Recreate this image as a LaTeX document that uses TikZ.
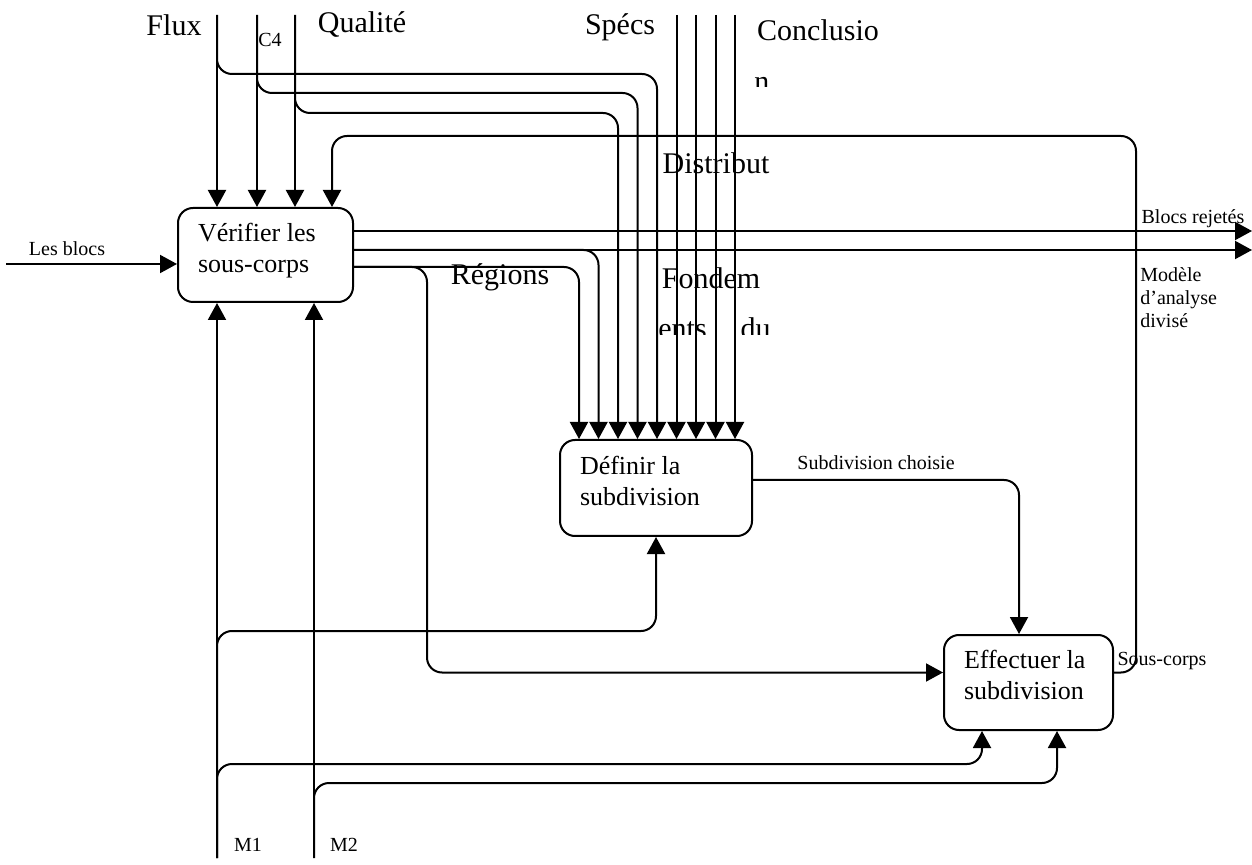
\documentclass[tikz,border=0pt]{standalone}
\usepackage{fontspec}
\setmainfont{Liberation Serif}
\usetikzlibrary{arrows.meta,positioning,calc}

\begin{document}
\begin{tikzpicture}[
    x=0.5pt, y=-0.5pt,
    every node/.style={inner sep=0pt},
    box/.style={draw, line width=1pt, rounded corners=7.5pt, align=flush left, inner xsep=10pt,
        text depth=23pt, font=\fontsize{13}{15.5}\selectfont},
    arr/.style={draw, line width=1pt, rounded corners=7.5pt, -{Triangle[length=8.5pt,width=9pt]}},
    big/.style={font=\fontsize{15}{18}\selectfont},
    small/.style={font=\fontsize{10}{11.5}\selectfont, align=left}
]
\useasboundingbox (0,0) rectangle (1252,865);

% activities
\node[box, minimum width=87.5pt, minimum height=47pt, text width=67.5pt] (verif) at (265.5,255) {Vérifier les\\sous-corps};
\node[box, minimum width=96pt, minimum height=48pt, text width=76pt] (defin) at (656,488) {Définir la\\subdivision};
\node[box, minimum width=84.5pt, minimum height=47.5pt, text width=64.5pt] (effect) at (1028.5,682.5) {Effectuer la\\subdivision};

% free ends
\coordinate (fluxin) at (217,15);
\coordinate (c4in) at (257,15);
\coordinate (qualin) at (295,15);
\coordinate (blocsin) at (6,264);
\coordinate (m1in) at (217,858);
\coordinate (m2in) at (314,858);
\coordinate (rejout) at (1252,231);
\coordinate (modout) at (1252,250);

% entry points
\foreach \i in {1,...,9}
    \coordinate (d\i) at ($(defin.north west)+({0.5+19.5*\i},0)$);
\coordinate (v4) at ($(verif.north west)+(155,0)$);
\coordinate (e1) at ($(effect.south west)+(39,0)$);
\coordinate (e2) at ($(effect.south west)+(114,0)$);
\coordinate (e3) at ($(effect.north west)+(76,0)$);
\coordinate (ein) at ($(effect.west)+(0,-10)$);

% controls
\draw[arr] (fluxin) -- (fluxin |- verif.north);
\draw[arr] (c4in) -- (c4in |- verif.north);
\draw[arr] (qualin) -- (qualin |- verif.north);
\draw[arr] (fluxin) |- (d5 |- 0,74) -- (d5);
\draw[arr] (c4in) |- (d4 |- 0,93) -- (d4);
\draw[arr] (qualin) |- (d3 |- 0,113) -- (d3);
\foreach \i in {6,...,9}
    \draw[arr] (d\i |- fluxin) -- (d\i);

% outputs of verif
\draw[arr] (verif.east |- rejout) -- (rejout);
\draw[arr] (verif.east |- modout) -- (modout);
\draw[arr] (verif.east |- modout) -| (d2);
\draw[arr] (verif.east |- 0,267) -| (d1);
\draw[arr] (verif.east |- 0,267) -| (427,0 |- ein) -- (ein);

% input
\draw[arr] (blocsin) -- (blocsin -| verif.west);

% feedback
\draw[arr] ($(effect.east)+(0,-10)$) -| (1136,136) -| (v4);

% defin to effect
\draw[arr] ($(defin.east)+(0,-8)$) -| (e3);

% mechanisms
\draw[arr] (m1in) -- (m1in |- verif.south);
\draw[arr] (m2in) -- (m2in |- verif.south);
\draw[arr] (m1in) |- ($(defin.south)+(0,94)$) -- (defin.south);
\draw[arr] (m1in) |- (e1 |- 0,764) -- (e1);
\draw[arr] (m2in) |- (e2 |- 0,783) -- (e2);

% labels
\node[big] (lflux) at (174,25) {Flux};
\node[small] (lc4) at (270,40) {C4};
\node[big] (lqual) at (362,25) {Qualité};
\node[big] (lspecs) at (620,27) {Spécs};
\node[big] (lconcl) at (818,30) {Conclusio};
\begin{scope}
    \clip (740,70) rectangle (790,87);
    \node[big, anchor=base west] (ln) at (754,92) {n};
\end{scope}
\node[big] (ldistr) at (716,163) {Distribut};
\node[big] (lregions) at (500,277) {Régions};
\node[big] (lfondem) at (711,278) {Fondem};
\begin{scope}
    \clip (640,300) rectangle (800,335);
    \node[big, anchor=base west] (lents) at (658,339) {ents\hspace{17pt}du};
\end{scope}
\node[small] (lrej) at (1193,219) {Blocs rejetés};
\node[small, anchor=north west] (lmod) at (1140,267) {Modèle\\d'analyse\\divisé};
\node[small] (lsubch) at (876,463) {Subdivision choisie};
\node[small] (lsous) at (1162,661) {Sous-corps};
\node[small] (lblocs) at (67,249) {Les blocs};
\node[small] (lm1) at (248,845) {M1};
\node[small] (lm2) at (344,845) {M2};
\end{tikzpicture}
\end{document}
